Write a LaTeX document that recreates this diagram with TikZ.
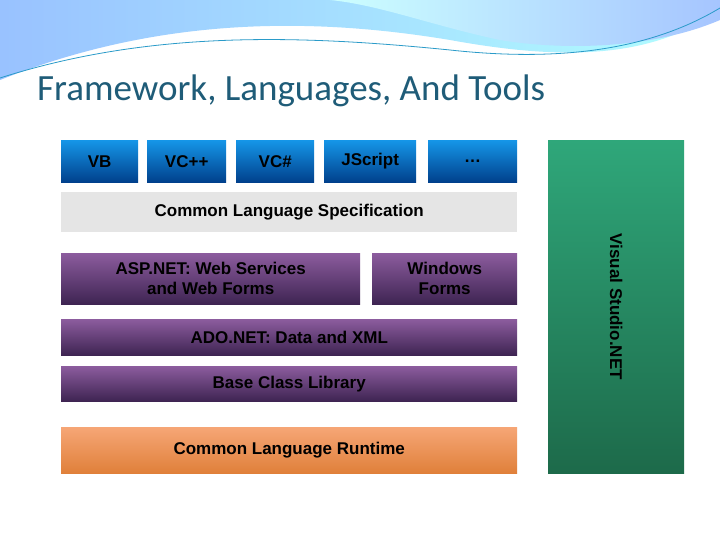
\documentclass[tikz,border=0pt]{standalone}
\usepackage{fontspec}
\setmainfont{Liberation Sans}
\newfontfamily\titlefont{Carlito}
\usetikzlibrary{shadings}
\definecolor{titlec}{HTML}{1F5C78}
\definecolor{bt}{HTML}{1596E8}\definecolor{bb}{HTML}{00408C}
\definecolor{pt}{HTML}{8C5C9E}\definecolor{pb}{HTML}{3E2452}
\definecolor{gt}{HTML}{2FA77A}\definecolor{gb}{HTML}{1D6A4A}
\definecolor{ot}{HTML}{F6A676}\definecolor{ob}{HTML}{E0803A}
\tikzset{
 box/.style={draw=none,minimum height=#1,inner sep=0pt,font=\bfseries\fontsize{17}{20}\selectfont,align=center,anchor=north west},
 lang/.style={box=42pt,top color=bt,bottom color=bb},
 purp/.style={top color=pt,bottom color=pb},
}
\begin{document}
\begin{tikzpicture}[x=1pt,y=-1pt]
\useasboundingbox (0,0) rectangle (720,540);
\fill[white] (0,0) rectangle (720,540);
% top decoration
\shade[left color=cyan!40!blue!40,right color=cyan!30] (0,0) -- (720,0) -- (720,10) .. controls (650,60) and (560,60) .. (450,40) .. controls (300,15) and (150,20) .. (0,80) -- cycle;
\shade[left color=cyan!20,right color=cyan!35!blue!35] (330,0) -- (720,0) -- (720,20) .. controls (650,50) and (560,50) .. (500,40) .. controls (430,25) and (380,5) .. (330,0) -- cycle;
\draw[cyan!60!teal,line width=0.8pt] (0,78) .. controls (150,30) and (300,35) .. (450,50) .. controls (560,62) and (650,50) .. (720,8);
\node[anchor=base west,inner sep=0pt,text=titlec,font=\titlefont\fontsize{37}{42}\selectfont] (title) at (37,101) {Framework, Languages, And Tools};
% languages
\node[lang,minimum width=77pt] (vb) at (61,140) {VB};
\node[lang,minimum width=79pt] (vcpp) at (147,140) {VC++};
\node[lang,minimum width=78pt] (vcs) at (236,140) {VC\#};
\node[lang,minimum width=92pt] (js) at (324,140) {JScript};
\node[lang,minimum width=89pt] (dots) at (428,140) {\ldots};
\node[box=40pt,fill=black!10,minimum width=456pt] (cls) at (61,192) {Common Language Specification};
\node[box=51pt,purp,minimum width=299pt] (asp) at (61,253) {ASP.NET: Web Services\\and Web Forms};
\node[box=51pt,purp,minimum width=145pt] (win) at (372,253) {Windows\\Forms};
\node[box=36pt,purp,minimum width=456pt] (ado) at (61,319) {ADO.NET: Data and XML};
\node[box=35pt,purp,minimum width=456pt] (bcl) at (61,366) {Base Class Library};
\node[box=46pt,top color=ot,bottom color=ob,minimum width=456pt] (clr) at (61,427) {Common Language Runtime};
\node[box=333pt,top color=gt,bottom color=gb,minimum width=136pt] (vs) at (548,140) {};
\node[rotate=-90,font=\bfseries\fontsize{17}{20}\selectfont] (vst) at (vs.center) {Visual Studio.NET};
\end{tikzpicture}
\end{document}
